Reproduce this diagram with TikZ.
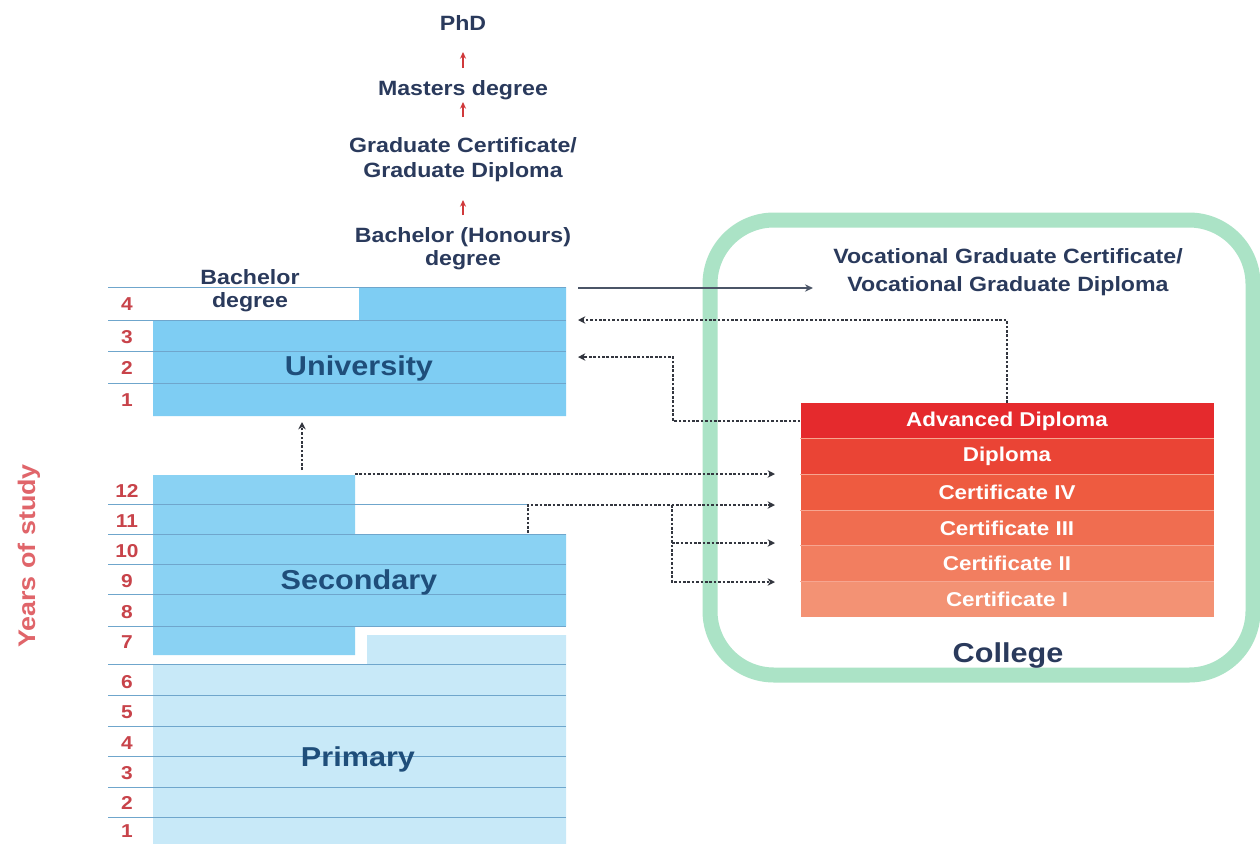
\documentclass[tikz,border=0pt]{standalone}
\usepackage{fontspec}
\setmainfont{Liberation Sans}[FakeStretch=1.12]
\usetikzlibrary{arrows.meta}
\definecolor{navy}{HTML}{2A3A5C}
\definecolor{lblue}{HTML}{1F4E7A}
\definecolor{numred}{HTML}{C8434A}
\definecolor{yrred}{HTML}{E0656A}
\definecolor{unifill}{HTML}{7ECDF3}
\definecolor{secfill}{HTML}{8AD2F3}
\definecolor{prifill}{HTML}{C8E9F8}
\definecolor{rowline}{HTML}{6FA6CC}
\definecolor{rA}{HTML}{E52A2D}
\definecolor{rB}{HTML}{EA4435}
\definecolor{rC}{HTML}{EE5B40}
\definecolor{rD}{HTML}{F06D50}
\definecolor{rE}{HTML}{F27E60}
\definecolor{rF}{HTML}{F39274}
\definecolor{rsep}{HTML}{F7A590}
\definecolor{greenbox}{HTML}{ABE3C6}
\definecolor{dotcol}{HTML}{33363F}
\definecolor{solidcol}{HTML}{4B5567}
\definecolor{uparrow}{HTML}{D0393B}
\tikzset{
  deg/.style={font=\fontsize{15.5}{18.5}\selectfont\bfseries, text=navy, align=center, inner sep=0pt},
  biglabel/.style={font=\fontsize{20.5}{24}\selectfont\bfseries, text=lblue, inner sep=0pt},
  yearnum/.style={font=\fontsize{14}{16}\selectfont\bfseries, text=numred, inner sep=0pt},
  certrow/.style={font=\fontsize{15}{18}\selectfont\bfseries, text=white, inner sep=0pt,
    minimum width=309.75pt, minimum height=26.75pt, anchor=north},
  rowsep/.style={draw=rowline, line width=0.75pt},
  dotarrow/.style={draw=dotcol, line width=1.5pt, dash pattern=on 2pt off 1.3pt, -{Stealth[length=5.5pt,width=5.5pt]}},
  redup/.style={draw=uparrow, line width=1.1pt, -{Stealth[length=5pt,width=4.5pt]}},
}
\begin{document}
\begin{tikzpicture}[x=0.75pt,y=-0.75pt]
\useasboundingbox (0,0) rectangle (1260,843);
\clip (0,0) rectangle (1260,843);
\fill[white] (0,0) rectangle (1260,843);

% green college frame
\draw[greenbox, line width=11.25pt, rounded corners=48pt] (710,220) rectangle (1253,675);

% blocks
\fill[unifill] (153,320) -- (153,416) -- (566,416) -- (566,287) -- (359,287) -- (359,320) -- cycle;
\fill[secfill] (153,475) -- (355,475) -- (355,534) -- (566,534) -- (566,626) -- (355,626) -- (355,655) -- (153,655) -- cycle;
\fill[prifill] (153,664) -- (153,850) -- (566,850) -- (566,635) -- (367,635) -- (367,664) -- cycle;

% row lines
\foreach \yy in {287,320,351,383} \draw[rowsep] (108,\yy) -- (566,\yy);
\draw[rowsep] (108,504) -- (528,504);
\foreach \yy in {534,564,594,626,664,695,726,756,787,817} \draw[rowsep] (108,\yy) -- (566,\yy);

% year numbers
\node[yearnum] (u4) at (127,304) {4};
\node[yearnum] (u3) at (127,337) {3};
\node[yearnum] (u2) at (127,368) {2};
\node[yearnum] (u1) at (127,400) {1};
\node[yearnum] (s12) at (127,491) {12};
\node[yearnum] (s11) at (127,521) {11};
\node[yearnum] (s10) at (127,551) {10};
\node[yearnum] (s9) at (127,581) {9};
\node[yearnum] (s8) at (127,612) {8};
\node[yearnum] (s7) at (127,642) {7};
\node[yearnum] (p6) at (127,682) {6};
\node[yearnum] (p5) at (127,712) {5};
\node[yearnum] (p4) at (127,743) {4};
\node[yearnum] (p3) at (127,773) {3};
\node[yearnum] (p2) at (127,803) {2};
\node[yearnum] (p1) at (127,831) {1};

\node[font=\fontsize{18}{20}\selectfont\bfseries, text=yrred, rotate=90, inner sep=0pt] (years) at (29,556) {Years of study};

% block labels
\node[biglabel] (uni) at (359,368) {University};
\node[biglabel] (sec) at (359,582) {Secondary};
\node[biglabel] (pri) at (358,759) {Primary};
\node[deg, font=\fontsize{15.5}{17.25}\selectfont\bfseries] (bach) at (250,291) {Bachelor\\degree};

% degree ladder
\node[deg] (phd) at (463,23) {PhD};
\node[deg] (mast) at (463,90) {Masters degree};
\node[deg, font=\fontsize{15.5}{18.75}\selectfont\bfseries] (grad) at (463,160) {Graduate Certificate/\\Graduate Diploma};
\node[deg, font=\fontsize{15.5}{17.25}\selectfont\bfseries] (hons) at (463,249) {Bachelor (Honours)\\degree};
\coordinate (a1s) at (463,68); \coordinate (a1e) at (463,52);
\coordinate (a2s) at (463,117); \coordinate (a2e) at (463,102);
\coordinate (a3s) at (463,215); \coordinate (a3e) at (463,200);
\draw[redup] (a1s) -- (a1e);
\draw[redup] (a2s) -- (a2e);
\draw[redup] (a3s) -- (a3e);

% vocational graduate
\node[deg, font=\fontsize{15.5}{21}\selectfont\bfseries] (voc) at (1008,272) {Vocational Graduate Certificate/\\Vocational Graduate Diploma};

% college rows
\node[certrow, fill=rA] (adv) at (1007,403) {Advanced Diploma};
\node[certrow, fill=rB] (dip) at (1007,438.7) {Diploma};
\node[certrow, fill=rC] (c4) at (1007,474.3) {Certificate IV};
\node[certrow, fill=rD] (c3) at (1007,510) {Certificate III};
\node[certrow, fill=rE] (c2) at (1007,545.7) {Certificate II};
\node[certrow, fill=rF] (c1) at (1007,581.3) {Certificate I};
\foreach \n in {dip,c4,c3,c2,c1} \draw[rsep, line width=0.75pt] (\n.north west) -- (\n.north east);
\node[biglabel, text=navy] (col) at (1008,655) {College};

% connector coordinates
\coordinate (uniR) at (578,288);
\coordinate (vocL) at (813,288);
\coordinate (uniIn3) at (578,320);
\coordinate (uniIn2) at (578,357);
\coordinate (secTop) at (302,470);
\coordinate (uniBot) at (302,422);
\coordinate (sec12) at (355,474);
\coordinate (sec10) at (528,533);
\coordinate (tDip) at (775,474);
\coordinate (tC4) at (775,505);
\coordinate (tC3) at (775,543);
\coordinate (tC2) at (775,582);
\coordinate (brTop) at (672,505);
\coordinate (brMid) at (672,543);

% connectors
\draw[solidcol, line width=1.9pt, -{Stealth[length=6pt,width=5.5pt]}] (uniR) -- (vocL);
\draw[dotarrow] (adv.north) |- (uniIn3);
\draw[dotarrow] (adv.west) -- ++(-127,0) |- (uniIn2);
\draw[dotarrow] (secTop) -- (uniBot);
\draw[dotarrow] (sec12) -- (tDip);
\draw[dotarrow] (sec10) |- (tC4);
\draw[dotarrow] (brTop) |- (tC2);
\draw[dotarrow] (brMid) -- (tC3);
\end{tikzpicture}
\end{document}
